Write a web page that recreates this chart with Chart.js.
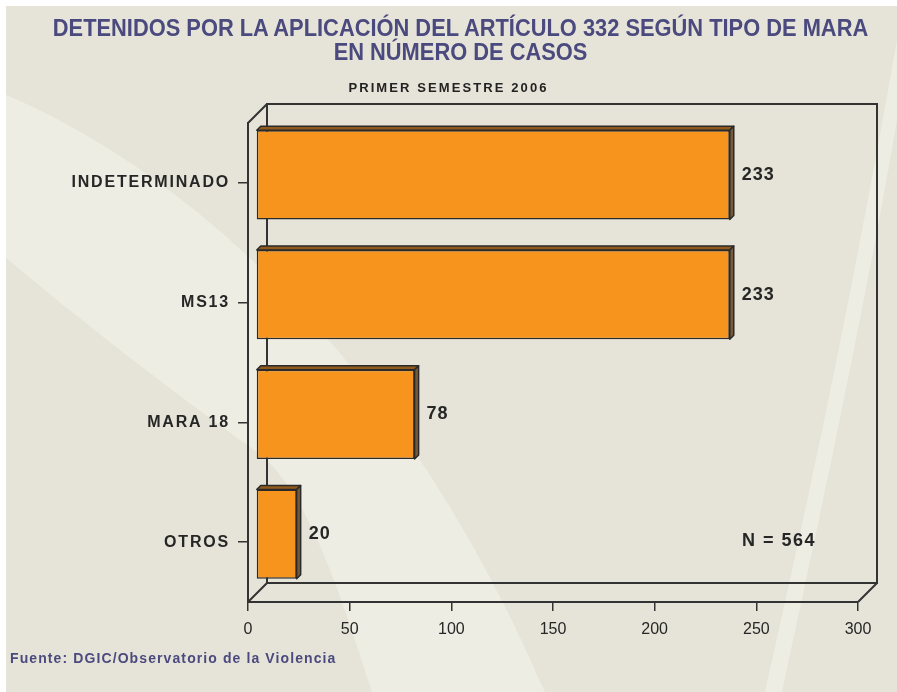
<!DOCTYPE html>
<html>
<head>
<meta charset="utf-8">
<script src="https://cdn.jsdelivr.net/npm/chart.js@4.4.1/dist/chart.umd.min.js"></script>
<style>
  body { margin: 0; background: #fff; }
  #wrap { position: relative; width: 897px; height: 692px; overflow: hidden; }
  #chart { position: absolute; left: 0; top: 0; }
  .txt { position: absolute; white-space: nowrap; font-weight: bold; }
  .title { left: 12px; width: 897px; text-align: center; color: #4b4a7e;
           font-family: "Liberation Sans Narrow", "Liberation Sans", Arial, sans-serif; font-size: 23px;
           transform: scaleX(0.95); transform-origin: center; }
  #sub { left: 0; width: 897px; text-align: center; top: 80px; color: #222;
         font-family: "Liberation Sans", Arial, sans-serif; font-size: 13px; letter-spacing: 2.1px; }
  #src { left: 10px; top: 650px; color: #4b4a7e;
         font-family: "Liberation Sans", Arial, sans-serif; font-size: 14px; letter-spacing: 1.1px; }
</style>
</head>
<body>
<div id="wrap">
  <canvas id="chart" width="897" height="692"></canvas>
  <div class="txt title" style="top:15px">DETENIDOS POR LA APLICACIÓN DEL ARTÍCULO 332 SEGÚN TIPO DE MARA</div>
  <div class="txt title" style="top:39px">EN NÚMERO DE CASOS</div>
  <div class="txt" id="sub">PRIMER SEMESTRE 2006</div>
  <div class="txt" id="src">Fuente: DGIC/Observatorio de la Violencia</div>
</div>
<script>
const categories = ['INDETERMINADO', 'MS13', 'MARA 18', 'OTROS'];
const casos = [233, 233, 78, 20];
const xTicks = [0, 50, 100, 150, 200, 250, 300];
const totalLabel = 'N = 564';

const DEPTH = 19;   // depth of the back wall
const SHIFT = 8;    // bars sit a bit behind the front plane
const BAR_D = 4;    // thickness of the bars

const bgPlugin = {
  id: 'bg',
  beforeDraw(chart) {
    const ctx = chart.ctx;
    ctx.save();
    ctx.fillStyle = '#ffffff';
    ctx.fillRect(0, 0, 897, 692);
    ctx.fillStyle = '#e6e4d8';
    ctx.fillRect(6, 6, 891, 686);
    // light swoosh going down from the left
    ctx.fillStyle = '#eeede3';
    ctx.beginPath();
    ctx.moveTo(6, 95);
    ctx.bezierCurveTo(160, 160, 390, 330, 545, 692);
    ctx.lineTo(372, 692);
    ctx.bezierCurveTo(330, 560, 300, 480, 250, 447);
    ctx.bezierCurveTo(170, 390, 80, 320, 6, 258);
    ctx.closePath();
    ctx.fill();
    // thin swoosh on the right
    ctx.beginPath();
    ctx.moveTo(897, 40);
    ctx.bezierCurveTo(860, 250, 820, 450, 765, 692);
    ctx.lineTo(782, 692);
    ctx.bezierCurveTo(835, 450, 875, 250, 897, 120);
    ctx.closePath();
    ctx.fill();
    ctx.restore();

    // letter spacing for the category labels only
    const s = chart.scales.y;
    if (s && !s._spaced) {
      const orig = s.drawLabels.bind(s);
      s.drawLabels = (area) => {
        chart.ctx.letterSpacing = '1.8px';
        orig(area);
        chart.ctx.letterSpacing = '0px';
      };
      s._spaced = true;
    }
  }
};

const depthPlugin = {
  id: 'depth',
  beforeDatasetsDraw(chart) {
    const ctx = chart.ctx;
    const a = chart.chartArea;
    ctx.save();
    ctx.strokeStyle = '#333';
    ctx.lineWidth = 2;
    ctx.strokeRect(a.left + DEPTH, a.top - DEPTH, a.right - a.left, a.bottom - a.top);
    ctx.beginPath();
    ctx.moveTo(a.left, a.top); ctx.lineTo(a.left + DEPTH, a.top - DEPTH);
    ctx.moveTo(a.left, a.bottom); ctx.lineTo(a.left + DEPTH, a.bottom - DEPTH);
    ctx.moveTo(a.right, a.bottom); ctx.lineTo(a.right + DEPTH, a.bottom - DEPTH);
    ctx.stroke();
    ctx.restore();
    ctx.save();
    ctx.translate(SHIFT, -SHIFT);
  },
  afterDatasetsDraw(chart) {
    const ctx = chart.ctx;
    ctx.restore();
    const bars = chart.getDatasetMeta(0).data;
    ctx.save();
    ctx.lineWidth = 1.5;
    ctx.strokeStyle = '#2a2a2a';
    ctx.lineJoin = 'round';
    bars.forEach((bar, i) => {
      const p = bar.getProps(['x', 'y', 'base', 'height'], true);
      const l = p.base + SHIFT, r = p.x + SHIFT;
      const t = p.y - p.height / 2 - SHIFT, b = p.y + p.height / 2 - SHIFT;
      // top face
      ctx.fillStyle = '#8f5a1c';
      ctx.beginPath();
      ctx.moveTo(l, t); ctx.lineTo(l + BAR_D, t - BAR_D);
      ctx.lineTo(r + BAR_D, t - BAR_D); ctx.lineTo(r, t); ctx.closePath();
      ctx.fill(); ctx.stroke();
      // side face
      ctx.fillStyle = '#765a3a';
      ctx.beginPath();
      ctx.moveTo(r, t); ctx.lineTo(r + BAR_D, t - BAR_D);
      ctx.lineTo(r + BAR_D, b - BAR_D); ctx.lineTo(r, b); ctx.closePath();
      ctx.fill(); ctx.stroke();
      // value
      ctx.fillStyle = '#262626';
      ctx.font = 'bold 18px "Liberation Sans", Arial, sans-serif';
      ctx.letterSpacing = '1px';
      ctx.textBaseline = 'middle';
      ctx.textAlign = 'left';
      ctx.fillText(String(casos[i]), r + BAR_D + 8, p.y - SHIFT);
    });
    const a = chart.chartArea;
    ctx.letterSpacing = '1.5px';
    ctx.fillText(totalLabel, a.right - 116, a.bottom - 61);
    ctx.restore();
  }
};

new Chart(document.getElementById('chart'), {
  type: 'bar',
  data: {
    labels: categories,
    datasets: [{
      data: casos,
      backgroundColor: '#f7941d',
      borderColor: '#2a2a2a',
      borderWidth: 1.5,
      borderSkipped: false,
      categoryPercentage: 0.745,
      barPercentage: 1,
      clip: false
    }]
  },
  options: {
    indexAxis: 'y',
    responsive: false,
    animation: false,
    events: [],
    layout: { padding: { top: 123, right: 39, bottom: 0, left: 0 } },
    plugins: {
      legend: { display: false },
      tooltip: { enabled: false }
    },
    scales: {
      x: {
        min: 0,
        max: 300,
        afterFit: (s) => { s.height = 90; },
        afterBuildTicks: (s) => { s.ticks = xTicks.map(v => ({ value: v })); },
        border: { display: true, color: '#333', width: 2 },
        grid: { display: true, drawOnChartArea: false, drawTicks: true, tickLength: 9, color: '#333', lineWidth: 1.5 },
        ticks: {
          color: '#262626',
          padding: 9,
          maxRotation: 0,
          font: { family: '"Liberation Sans", Arial, sans-serif', size: 16 }
        }
      },
      y: {
        afterFit: (s) => { s.width = 248; },
        border: { display: true, color: '#333', width: 2 },
        grid: { display: true, offset: false, drawOnChartArea: false, drawTicks: true, tickLength: 10, color: '#333', lineWidth: 1.5 },
        ticks: {
          color: '#262626',
          padding: 8,
          font: { family: '"Liberation Sans", Arial, sans-serif', size: 16, weight: 'bold' }
        }
      }
    }
  },
  plugins: [bgPlugin, depthPlugin]
});
</script>
</body>
</html>
